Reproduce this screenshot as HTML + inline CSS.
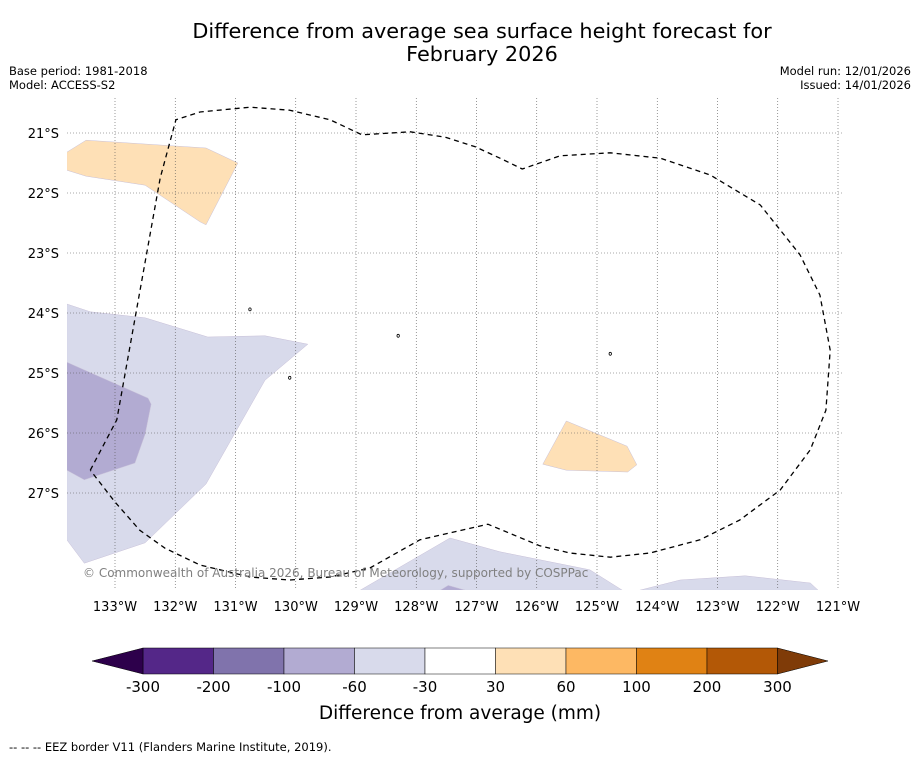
<!DOCTYPE html>
<html><head><meta charset="utf-8"><style>
body{margin:0;background:#fff;font-family:"Liberation Sans","DejaVu Sans",sans-serif}
svg text{font-family:"DejaVu Sans","Liberation Sans",sans-serif}
</style></head><body>
<svg id="c" width="919" height="758" xmlns="http://www.w3.org/2000/svg">
<text x="482" y="38" font-size="20.8" text-anchor="middle">Difference from average sea surface height forecast for</text>
<text x="482" y="61" font-size="20.8" text-anchor="middle">February 2026</text>
<text x="9" y="75" font-size="11.5">Base period: 1981-2018</text>
<text x="9" y="89" font-size="11.5">Model: ACCESS-S2</text>
<text x="911" y="75" font-size="11.5" text-anchor="end">Model run: 12/01/2026</text>
<text x="911" y="89" font-size="11.5" text-anchor="end">Issued: 14/01/2026</text>
<defs><clipPath id="mc"><rect x="67" y="98" width="776" height="492"/></clipPath></defs>
<g id="map" clip-path="url(#mc)"></g>
<g id="axes"></g>
<text x="83" y="577" font-size="12" fill="#808080">© Commonwealth of Australia 2026, Bureau of Meteorology, supported by COSPPac</text>
<g id="cbar"></g>
<text x="460" y="719" font-size="18.5" text-anchor="middle">Difference from average (mm)</text>
<text x="9" y="751" font-size="11.5">-- -- -- EEZ border V11 (Flanders Marine Institute, 2019).</text>
</svg>
<script>
const lonTicks=[133,132,131,130,129,128,127,126,125,124,123,122,121];
const latTicks=[21,22,23,24,25,26,27];
const cbLevels=[-300,-200,-100,-60,-30,30,60,100,200,300];
const cbColors=["#542788","#8073ac","#b2abd2","#d8daeb","#ffffff","#fee0b6","#fdb863","#e08214","#b35806"];
const orangeNorth=[[133.8,21.32],[133.48,21.12],[131.49,21.25],[130.96,21.5],[131.49,22.53],[131.59,22.48],[132.5,21.87],[133.48,21.72],[133.8,21.62]];
const orangeSouth=[[125.51,25.8],[124.5,26.22],[124.34,26.53],[124.49,26.65],[125.51,26.62],[125.9,26.52]];
const lavWest=[[133.8,23.85],[133.41,23.98],[132.5,24.08],[131.46,24.4],[130.51,24.38],[129.8,24.52],[130.51,25.12],[131.49,26.85],[132.5,27.83],[133.51,28.17],[133.8,27.78]];
const purpWest=[[133.8,24.82],[132.45,25.42],[132.4,25.52],[132.5,26.02],[132.67,26.5],[133.51,26.78],[133.8,26.62]];
const lavSouth=[[128.93,28.62],[127.44,27.75],[126.61,27.98],[125.12,28.28],[124.58,28.62]];
const purpSouth=[[127.6,28.62],[127.47,28.54],[127.19,28.62]];
const lavSE=[[124.29,28.62],[123.62,28.45],[122.54,28.38],[121.46,28.5],[121.33,28.62]];
const eez=[[133.41,26.62],[132.97,25.78],[132.25,21.75],[131.99,20.78],[131.59,20.65],[130.76,20.57],[130.10,20.62],[129.43,20.78],[128.9,21.03],[128.1,20.98],[127.52,21.07],[127.02,21.23],[126.61,21.42],[126.24,21.6],[125.61,21.38],[124.78,21.33],[123.95,21.42],[123.12,21.7],[122.29,22.2],[121.63,23.03],[121.30,23.7],[121.13,24.62],[121.20,25.62],[121.46,26.28],[121.96,26.95],[122.63,27.45],[123.29,27.78],[124.12,28.0],[124.78,28.07],[125.45,28.0],[125.95,27.88],[126.81,27.52],[127.94,27.78],[128.77,28.25],[129.43,28.4],[130.1,28.45],[130.76,28.4],[131.59,28.2],[132.17,27.92],[132.59,27.62],[133.0,27.15],[133.41,26.62]];
const islands=[[130.76,23.94],[128.3,24.38],[130.1,25.08],[124.78,24.68]];
const X=lon=>115+(133-lon)*60.25, Y=lat=>133+(lat-21)*60;
const NS="http://www.w3.org/2000/svg";
function mk(t,a,p){const e=document.createElementNS(NS,t);for(const k in a)e.setAttribute(k,a[k]);p.appendChild(e);return e;}
const map=document.getElementById('map'),ax=document.getElementById('axes'),cb=document.getElementById('cbar');
const pts=a=>a.map(p=>X(p[0]).toFixed(1)+','+Y(p[1]).toFixed(1)).join(' ');
[[lavWest,'#d8daeb','lavender-region-west'],[purpWest,'#b2abd2','purple-region-west'],[lavSouth,'#d8daeb','lavender-region-south'],[purpSouth,'#b2abd2','purple-region-south'],[lavSE,'#d8daeb','lavender-region-southeast'],[orangeNorth,'#fee0b6','orange-region-north'],[orangeSouth,'#fee0b6','orange-region-south']].forEach(s=>{
 const e=mk('polygon',{points:pts(s[0]),fill:s[1],stroke:'#c8c0d8','stroke-width':0.5},map);
 
 
});
lonTicks.forEach(l=>{const e=mk('line',{x1:X(l),x2:X(l),y1:98,y2:590,stroke:'#555','stroke-width':0.6,'stroke-dasharray':'1,2'},map);
 
 const t=mk('text',{x:X(l),y:611,'font-size':13,'text-anchor':'middle'},ax);t.textContent=l+'°W';
 });
latTicks.forEach(l=>{const e=mk('line',{x1:67,x2:843,y1:Y(l),y2:Y(l),stroke:'#555','stroke-width':0.6,'stroke-dasharray':'1,2'},map);
 
 const t=mk('text',{x:59,y:Y(l)+5,'font-size':13,'text-anchor':'end'},ax);t.textContent=l+'°S';
 });
islands.forEach(p=>{const e=mk('ellipse',{cx:X(p[0]),cy:Y(p[1]),rx:1.2,ry:1.5,fill:'none',stroke:'#000','stroke-width':0.8},map);
 });
const eel=mk('polyline',{points:pts(eez),fill:'none',stroke:'#000','stroke-width':1.3,'stroke-dasharray':'5,4','stroke-linejoin':'round'},map);

const cx0=143,cw=70.5,cy=648,ch=26;
cbColors.forEach((c,i)=>{const e=mk('rect',{x:cx0+i*cw,y:cy,width:cw,height:ch,fill:c,stroke:'#000','stroke-width':0.5},cb);
 });
const cend=cx0+cbColors.length*cw;
let tl=mk('polygon',{points:`${cx0},${cy} 92,${cy+ch/2} ${cx0},${cy+ch}`,fill:'#2d004b',stroke:'#000','stroke-width':0.5},cb);

let tr=mk('polygon',{points:`${cend},${cy} 828,${cy+ch/2} ${cend},${cy+ch}`,fill:'#7f3b08',stroke:'#000','stroke-width':0.5},cb);

cbLevels.forEach((v,i)=>{const t=mk('text',{x:cx0+i*cw,y:692,'font-size':15,'text-anchor':'middle'},cb);t.textContent=v;
 });
</script>
</body></html>
